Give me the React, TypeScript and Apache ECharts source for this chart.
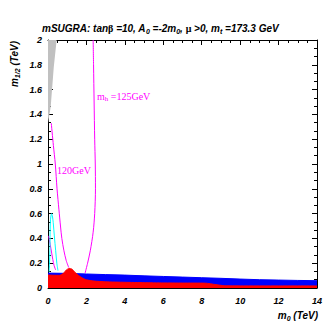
import React, { useEffect, useRef } from "react";
import * as echarts from "echarts";

// ---- data (m0 in TeV, m1/2 in TeV) ----
const xTicks = [0, 2, 4, 6, 8, 10, 12, 14];
const yTicks = [0, 0.2, 0.4, 0.6, 0.8, 1, 1.2, 1.4, 1.6, 1.8, 2];

const grayRegion = [
  [0, 2],
  [0.45, 2],
  [0.3, 1.78],
  [0.14, 1.46],
  [0, 1.33],
];

const blueTop = [
  [0, 0.12], [1, 0.118], [2, 0.113], [3, 0.108], [4, 0.104], [5, 0.098],
  [6, 0.093], [7, 0.088], [8, 0.083], [9, 0.078], [10, 0.072], [11, 0.067],
  [12, 0.064], [13, 0.061], [14, 0.059],
];

const redTop = [
  [0, 0.105], [0.3, 0.103], [0.6, 0.102], [0.8, 0.118], [0.95, 0.145],
  [1.1, 0.158], [1.25, 0.152], [1.4, 0.128], [1.6, 0.1], [1.8, 0.08],
  [2.0, 0.066], [2.4, 0.056], [3, 0.05], [4, 0.046], [5, 0.043],
  [6, 0.041], [7, 0.04], [8.2, 0.039], [8.7, 0.028], [9.2, 0.018],
  [10, 0.017], [12, 0.017], [14, 0.017],
];

const mh125 = [
  [2.35, 2.0], [2.37, 1.8], [2.4, 1.5], [2.43, 1.2], [2.46, 1.0],
  [2.47, 0.8], [2.43, 0.6], [2.35, 0.45], [2.2, 0.3], [2.06, 0.2], [1.93, 0.12],
];

const mh120 = [
  [0.17, 1.33], [0.28, 1.15], [0.38, 1.0], [0.47, 0.8], [0.57, 0.63],
  [0.65, 0.5], [0.72, 0.4], [0.83, 0.3], [0.95, 0.22], [1.08, 0.165],
];

const mhLow = [
  [0.03, 0.42], [0.08, 0.38], [0.15, 0.32], [0.25, 0.23], [0.32, 0.18], [0.4, 0.145],
];

const cyanLine = [
  [0.06, 0.13], [0.08, 0.2], [0.1, 0.3], [0.11, 0.45], [0.13, 0.55],
  [0.19, 0.6], [0.23, 0.58], [0.27, 0.53], [0.33, 0.42], [0.4, 0.3],
  [0.46, 0.2], [0.52, 0.14],
];

const FONT = "'Liberation Sans', Arial, sans-serif";
const SERIF = "'Liberation Serif', 'DejaVu Serif', serif";

export default function App() {
  const ref = useRef<HTMLDivElement>(null);
  useEffect(() => {
    if (!ref.current) return;
    const chart = echarts.init(ref.current, null, { renderer: "svg" });

    const labelStyle = {
      fontFamily: FONT,
      fontWeight: "bold" as const,
      fontStyle: "italic" as const,
      fontSize: 9,
      color: "#000",
    };
    const baseAxis = (isX: boolean, show: boolean, pos: string) => ({
      type: "value",
      position: pos,
      min: isX ? xTicks[0] : yTicks[0],
      max: isX ? xTicks[xTicks.length - 1] : yTicks[yTicks.length - 1],
      interval: isX ? xTicks[1] - xTicks[0] : yTicks[1] - yTicks[0],
      axisLine: { show: true, onZero: false, lineStyle: { color: "#000", width: 1 } },
      axisTick: { show: true, inside: true, length: 5, lineStyle: { color: "#000" } },
      minorTick: { show: true, splitNumber: isX ? 4 : 3, length: 3, lineStyle: { color: "#000" } },
      splitLine: { show: false },
      axisLabel: show
        ? { ...labelStyle, margin: isX ? 8 : 6 }
        : { show: false },
    });

    const lineSeries = (data: number[][], color: string) => ({
      type: "line",
      data,
      symbol: "none",
      smooth: 0.3,
      lineStyle: { color, width: 1 },
      z: 5,
    });

    chart.setOption({
      animation: false,
      backgroundColor: "#fff",
      title: {
        left: 37,
        top: 17,
        text:
          "{b|mSUGRA: tan}{g|β}{b| =10, A}{s|0}{b| =-2m}{s|0}{b|, }{g|μ}{b| >0, m}{s|t}{b| =173.3 GeV}",
        textStyle: {
          rich: {
            b: { fontFamily: FONT, fontWeight: "bold", fontStyle: "italic", fontSize: 10, color: "#000" },
            g: { fontFamily: SERIF, fontSize: 10, color: "#000" },
            s: { fontFamily: FONT, fontWeight: "bold", fontStyle: "italic", fontSize: 7, color: "#000", padding: [6, 0, 0, 0] },
          },
        },
      },
      grid: { left: 48, top: 40, width: 269, height: 248, containLabel: false },
      xAxis: [baseAxis(true, true, "bottom"), baseAxis(true, false, "top")],
      yAxis: [baseAxis(false, true, "left"), baseAxis(false, false, "right")],
      graphic: [
        {
          type: "text",
          x: 14,
          y: 64,
          rotation: Math.PI / 2,
          style: {
            text: "{b|m}{s|1/2}{b| (TeV)}",
            align: "center",
            verticalAlign: "middle",
            rich: {
              b: { fontFamily: FONT, fontWeight: "bold", fontStyle: "italic", fontSize: 10, fill: "#000" },
              s: { fontFamily: FONT, fontWeight: "bold", fontStyle: "italic", fontSize: 7, fill: "#000", padding: [6, 0, 0, 0] },
            },
          },
        },
        {
          type: "text",
          x: 318,
          y: 315,
          style: {
            text: "{b|m}{s|0}{b| (TeV)}",
            align: "right",
            verticalAlign: "middle",
            rich: {
              b: { fontFamily: FONT, fontWeight: "bold", fontStyle: "italic", fontSize: 10, fill: "#000" },
              s: { fontFamily: FONT, fontWeight: "bold", fontStyle: "italic", fontSize: 7, fill: "#000", padding: [6, 0, 0, 0] },
            },
          },
        },
        {
          type: "text",
          x: 97,
          y: 96,
          z: 10,
          style: {
            text: "{b|m}{s|h}{b| =125GeV}",
            verticalAlign: "middle",
            rich: {
              b: { fontFamily: SERIF, fontSize: 10, fill: "#ff00ff" },
              s: { fontFamily: SERIF, fontSize: 7, fill: "#ff00ff", padding: [5, 0, 0, 0] },
            },
          },
        },
        {
          type: "text",
          x: 57,
          y: 170,
          z: 10,
          style: {
            text: "120GeV",
            verticalAlign: "middle",
            fontFamily: SERIF,
            fontSize: 10,
            fill: "#ff00ff",
          },
        },
      ],
      series: [
        {
          type: "custom",
          data: grayRegion,
          z: 2,
          renderItem: (params: any, api: any) => {
            if (params.dataIndex !== 0) return null;
            const pts = grayRegion.map((p) => api.coord(p));
            return { type: "polygon", shape: { points: pts }, style: { fill: "#c0c0c0" } };
          },
        },
        {
          type: "line",
          data: blueTop,
          symbol: "none",
          lineStyle: { color: "#0000ff", width: 1 },
          areaStyle: { color: "#0000ff", opacity: 1 },
          z: 3,
        },
        {
          type: "line",
          data: redTop,
          symbol: "none",
          smooth: 0.2,
          lineStyle: { color: "#ff0000", width: 1 },
          areaStyle: { color: "#ff0000", opacity: 1 },
          z: 4,
        },
        lineSeries(mh125, "#ff00ff"),
        lineSeries(mh120, "#ff00ff"),
        lineSeries(mhLow, "#ff00ff"),
        lineSeries(cyanLine, "#00ffff"),
      ],
    });
    return () => chart.dispose();
  }, []);
  return (
    <div
      ref={ref}
      style={{ position: "absolute", left: 0, top: 0, width: 327, height: 327 }}
    />
  );
}
